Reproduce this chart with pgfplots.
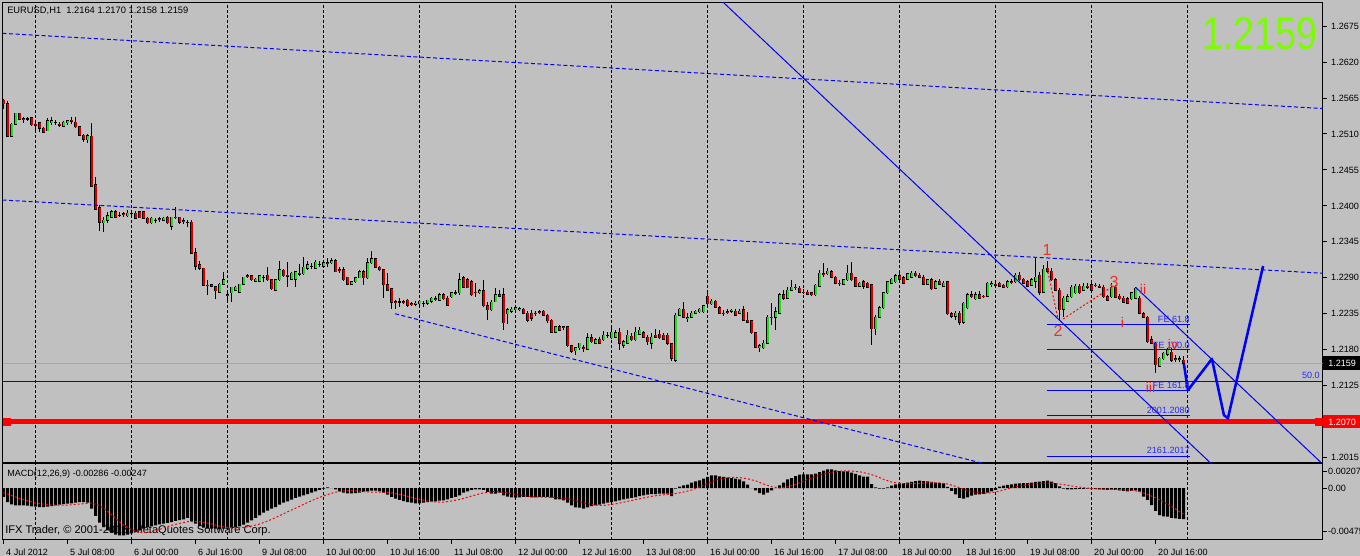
\documentclass[border=0pt]{standalone}
\usepackage{pgfplots}
\usepackage{pgfplotstable}
\pgfplotsset{compat=1.18}
\usepackage{fontspec}
\setmainfont{Liberation Sans}

\definecolor{chartbg}{RGB}{192,192,192}
\definecolor{lineblue}{RGB}{0,0,255}
\definecolor{fibblue}{RGB}{40,40,255}
\definecolor{wave}{RGB}{225,55,35}
\definecolor{roman}{RGB}{255,25,25}
\definecolor{bigprice}{RGB}{124,252,0}
\definecolor{bidgray}{RGB}{168,168,168}

\newcommand{\lbl}{\fontsize{6.8}{8}\selectfont}

% EURUSD H1 bars: index, open, high, low, close
\pgfplotstableread{
i o h l c
0 1.2562 1.2564 1.2548 1.2556
1 1.2556 1.2560 1.2505 1.2507
2 1.2507 1.2527 1.2505 1.2525
3 1.2525 1.2542 1.2525 1.2542
4 1.2542 1.2542 1.2531 1.2533
5 1.2533 1.2536 1.2527 1.2532
6 1.2533 1.2536 1.2530 1.2533
7 1.2535 1.2536 1.2522 1.2524
8 1.2525 1.2528 1.2516 1.2524
9 1.2527 1.2528 1.2513 1.2519
10 1.2519 1.2521 1.2512 1.2513
11 1.2515 1.2535 1.2515 1.2530
12 1.2527 1.2536 1.2524 1.2530
13 1.2528 1.2531 1.2524 1.2528
14 1.2525 1.2528 1.2521 1.2524
15 1.2522 1.2530 1.2522 1.2528
16 1.2527 1.2531 1.2524 1.2530
17 1.2531 1.2536 1.2525 1.2530
18 1.2528 1.2536 1.2519 1.2521
19 1.2521 1.2522 1.2507 1.2508
20 1.2508 1.2510 1.2498 1.2502
21 1.2501 1.2510 1.2496 1.2507
22 1.2507 1.2527 1.2430 1.2430
23 1.2432 1.2444 1.2395 1.2395
24 1.2397 1.2401 1.2362 1.2375
25 1.2374 1.2383 1.2360 1.2378
26 1.2378 1.2391 1.2374 1.2385
27 1.2383 1.2394 1.2381 1.2391
28 1.2391 1.2394 1.2381 1.2383
29 1.2386 1.2391 1.2383 1.2386
30 1.2388 1.2391 1.2383 1.2387
31 1.2385 1.2394 1.2383 1.2389
32 1.2389 1.2394 1.2386 1.2389
33 1.2389 1.2392 1.2381 1.2381
34 1.2391 1.2392 1.2381 1.2382
35 1.2391 1.2392 1.2380 1.2381
36 1.2381 1.2383 1.2372 1.2374
37 1.2374 1.2383 1.2372 1.2381
38 1.2378 1.2381 1.2374 1.2378
39 1.2380 1.2383 1.2375 1.2379
40 1.2378 1.2383 1.2377 1.2381
41 1.2383 1.2385 1.2372 1.2374
42 1.2369 1.2383 1.2363 1.2383
43 1.2383 1.2398 1.2380 1.2382
44 1.2383 1.2383 1.2372 1.2375
45 1.2377 1.2381 1.2372 1.2376
46 1.2375 1.2378 1.2368 1.2375
47 1.2375 1.2378 1.2326 1.2328
48 1.2328 1.2336 1.2302 1.2308
49 1.2310 1.2316 1.2302 1.2305
50 1.2305 1.2305 1.2277 1.2279
51 1.2279 1.2287 1.2264 1.2278
52 1.2279 1.2280 1.2276 1.2277
53 1.2276 1.2277 1.2258 1.2270
54 1.2268 1.2282 1.2268 1.2280
55 1.2280 1.2299 1.2279 1.2287
56 1.2264 1.2268 1.2254 1.2263
57 1.2267 1.2276 1.2253 1.2276
58 1.2271 1.2277 1.2270 1.2276
59 1.2268 1.2280 1.2267 1.2280
60 1.2280 1.2291 1.2280 1.2291
61 1.2293 1.2296 1.2290 1.2292
62 1.2293 1.2293 1.2285 1.2287
63 1.2285 1.2290 1.2284 1.2288
64 1.2285 1.2293 1.2284 1.2293
65 1.2291 1.2294 1.2284 1.2291
66 1.2294 1.2306 1.2285 1.2287
67 1.2287 1.2287 1.2271 1.2273
68 1.2271 1.2288 1.2271 1.2287
69 1.2287 1.2316 1.2285 1.2302
70 1.2302 1.2303 1.2291 1.2293
71 1.2294 1.2314 1.2276 1.2293
72 1.2288 1.2299 1.2287 1.2297
73 1.2288 1.2299 1.2276 1.2299
74 1.2297 1.2311 1.2293 1.2296
75 1.2296 1.2322 1.2294 1.2306
76 1.2305 1.2316 1.2302 1.2310
77 1.2308 1.2313 1.2303 1.2308
78 1.2305 1.2317 1.2305 1.2314
79 1.2311 1.2316 1.2306 1.2311
80 1.2308 1.2317 1.2306 1.2313
81 1.2313 1.2320 1.2306 1.2312
82 1.2313 1.2320 1.2311 1.2316
83 1.2316 1.2319 1.2299 1.2299
84 1.2302 1.2306 1.2297 1.2301
85 1.2302 1.2306 1.2285 1.2287
86 1.2291 1.2291 1.2279 1.2280
87 1.2280 1.2285 1.2279 1.2284
88 1.2284 1.2290 1.2282 1.2290
89 1.2290 1.2302 1.2290 1.2299
90 1.2299 1.2302 1.2279 1.2290
91 1.2290 1.2320 1.2288 1.2313
92 1.2313 1.2331 1.2311 1.2319
93 1.2319 1.2320 1.2305 1.2306
94 1.2306 1.2308 1.2300 1.2302
95 1.2302 1.2303 1.2259 1.2279
96 1.2279 1.2297 1.2270 1.2271
97 1.2273 1.2273 1.2242 1.2253
98 1.2253 1.2256 1.2242 1.2252
99 1.2253 1.2259 1.2245 1.2253
100 1.2253 1.2256 1.2250 1.2252
101 1.2256 1.2258 1.2245 1.2248
102 1.2250 1.2253 1.2247 1.2249
103 1.2250 1.2254 1.2247 1.2251
104 1.2250 1.2256 1.2245 1.2254
105 1.2251 1.2254 1.2245 1.2251
106 1.2251 1.2256 1.2248 1.2256
107 1.2254 1.2261 1.2251 1.2259
108 1.2258 1.2262 1.2254 1.2257
109 1.2256 1.2267 1.2254 1.2264
110 1.2264 1.2267 1.2256 1.2258
111 1.2259 1.2262 1.2248 1.2248
112 1.2261 1.2268 1.2259 1.2267
113 1.2267 1.2271 1.2264 1.2266
114 1.2267 1.2297 1.2264 1.2287
115 1.2290 1.2293 1.2274 1.2276
116 1.2287 1.2290 1.2274 1.2275
117 1.2284 1.2287 1.2262 1.2264
118 1.2268 1.2282 1.2261 1.2267
119 1.2267 1.2273 1.2265 1.2270
120 1.2270 1.2287 1.2245 1.2247
121 1.2247 1.2253 1.2225 1.2241
122 1.2241 1.2256 1.2239 1.2253
123 1.2253 1.2274 1.2253 1.2264
124 1.2264 1.2271 1.2261 1.2262
125 1.2264 1.2274 1.2210 1.2221
126 1.2235 1.2244 1.2219 1.2241
127 1.2239 1.2245 1.2236 1.2242
128 1.2241 1.2247 1.2238 1.2244
129 1.2242 1.2245 1.2239 1.2243
130 1.2242 1.2244 1.2235 1.2236
131 1.2236 1.2239 1.2222 1.2225
132 1.2236 1.2241 1.2224 1.2228
133 1.2236 1.2239 1.2231 1.2235
134 1.2238 1.2241 1.2235 1.2237
135 1.2239 1.2241 1.2233 1.2233
136 1.2233 1.2235 1.2221 1.2224
137 1.2225 1.2227 1.2206 1.2207
138 1.2207 1.2216 1.2206 1.2215
139 1.2215 1.2218 1.2209 1.2210
140 1.2215 1.2216 1.2210 1.2214
141 1.2215 1.2216 1.2184 1.2186
142 1.2186 1.2186 1.2175 1.2178
143 1.2178 1.2183 1.2172 1.2183
144 1.2183 1.2190 1.2180 1.2190
145 1.2183 1.2187 1.2176 1.2182
146 1.2181 1.2205 1.2180 1.2198
147 1.2198 1.2204 1.2190 1.2192
148 1.2190 1.2198 1.2189 1.2195
149 1.2196 1.2199 1.2190 1.2190
150 1.2195 1.2208 1.2193 1.2202
151 1.2202 1.2207 1.2198 1.2202
152 1.2198 1.2215 1.2196 1.2207
153 1.2199 1.2210 1.2198 1.2206
154 1.2207 1.2213 1.2180 1.2190
155 1.2187 1.2195 1.2183 1.2192
156 1.2190 1.2210 1.2189 1.2202
157 1.2201 1.2206 1.2193 1.2195
158 1.2195 1.2215 1.2193 1.2207
159 1.2204 1.2215 1.2202 1.2210
160 1.2206 1.2209 1.2198 1.2199
161 1.2199 1.2202 1.2187 1.2192
162 1.2190 1.2205 1.2181 1.2199
163 1.2202 1.2212 1.2198 1.2199
164 1.2204 1.2210 1.2196 1.2198
165 1.2202 1.2205 1.2195 1.2196
166 1.2202 1.2205 1.2187 1.2190
167 1.2189 1.2190 1.2163 1.2167
168 1.2164 1.2236 1.2161 1.2233
169 1.2233 1.2244 1.2232 1.2242
170 1.2242 1.2253 1.2228 1.2230
171 1.2228 1.2236 1.2222 1.2229
172 1.2230 1.2239 1.2228 1.2236
173 1.2236 1.2241 1.2235 1.2239
174 1.2238 1.2244 1.2236 1.2242
175 1.2238 1.2248 1.2236 1.2247
176 1.2262 1.2271 1.2248 1.2250
177 1.2250 1.2258 1.2248 1.2254
178 1.2254 1.2256 1.2244 1.2245
179 1.2244 1.2247 1.2235 1.2236
180 1.2236 1.2241 1.2231 1.2235
181 1.2238 1.2242 1.2235 1.2237
182 1.2239 1.2242 1.2236 1.2240
183 1.2239 1.2242 1.2231 1.2233
184 1.2236 1.2242 1.2235 1.2239
185 1.2241 1.2247 1.2224 1.2225
186 1.2225 1.2238 1.2221 1.2222
187 1.2224 1.2225 1.2204 1.2206
188 1.2206 1.2207 1.2183 1.2184
189 1.2183 1.2189 1.2176 1.2186
190 1.2183 1.2195 1.2181 1.2190
191 1.2190 1.2233 1.2189 1.2230
192 1.2230 1.2251 1.2218 1.2229
193 1.2230 1.2245 1.2210 1.2238
194 1.2236 1.2267 1.2235 1.2264
195 1.2264 1.2271 1.2256 1.2259
196 1.2259 1.2276 1.2257 1.2271
197 1.2271 1.2287 1.2270 1.2276
198 1.2276 1.2280 1.2271 1.2275
199 1.2274 1.2277 1.2267 1.2268
200 1.2268 1.2273 1.2265 1.2267
201 1.2268 1.2271 1.2264 1.2265
202 1.2267 1.2268 1.2262 1.2264
203 1.2264 1.2280 1.2262 1.2279
204 1.2277 1.2302 1.2276 1.2297
205 1.2296 1.2313 1.2291 1.2295
206 1.2296 1.2305 1.2294 1.2300
207 1.2299 1.2302 1.2290 1.2291
208 1.2291 1.2293 1.2280 1.2282
209 1.2282 1.2287 1.2277 1.2281
210 1.2280 1.2288 1.2279 1.2287
211 1.2287 1.2310 1.2285 1.2297
212 1.2297 1.2314 1.2285 1.2287
213 1.2290 1.2291 1.2276 1.2277
214 1.2277 1.2284 1.2276 1.2282
215 1.2284 1.2287 1.2273 1.2277
216 1.2282 1.2284 1.2274 1.2276
217 1.2279 1.2280 1.2187 1.2212
218 1.2212 1.2233 1.2202 1.2230
219 1.2230 1.2247 1.2228 1.2244
220 1.2244 1.2268 1.2242 1.2267
221 1.2267 1.2285 1.2265 1.2284
222 1.2282 1.2290 1.2280 1.2288
223 1.2284 1.2296 1.2282 1.2293
224 1.2293 1.2297 1.2287 1.2288
225 1.2290 1.2293 1.2280 1.2282
226 1.2288 1.2297 1.2287 1.2296
227 1.2291 1.2300 1.2290 1.2297
228 1.2297 1.2300 1.2291 1.2293
229 1.2294 1.2297 1.2290 1.2291
230 1.2291 1.2294 1.2279 1.2280
231 1.2280 1.2288 1.2279 1.2287
232 1.2287 1.2290 1.2271 1.2273
233 1.2274 1.2287 1.2273 1.2284
234 1.2285 1.2288 1.2279 1.2280
235 1.2277 1.2285 1.2276 1.2282
236 1.2284 1.2285 1.2233 1.2235
237 1.2235 1.2238 1.2228 1.2231
238 1.2231 1.2239 1.2225 1.2236
239 1.2236 1.2239 1.2218 1.2222
240 1.2222 1.2253 1.2219 1.2251
241 1.2244 1.2267 1.2242 1.2264
242 1.2264 1.2270 1.2259 1.2261
243 1.2258 1.2268 1.2256 1.2264
244 1.2264 1.2270 1.2258 1.2259
245 1.2262 1.2264 1.2259 1.2261
246 1.2262 1.2284 1.2261 1.2282
247 1.2280 1.2285 1.2276 1.2281
248 1.2280 1.2284 1.2277 1.2279
249 1.2282 1.2284 1.2276 1.2277
250 1.2279 1.2280 1.2274 1.2276
251 1.2276 1.2287 1.2274 1.2284
252 1.2284 1.2288 1.2280 1.2283
253 1.2284 1.2297 1.2282 1.2294
254 1.2294 1.2299 1.2285 1.2287
255 1.2288 1.2290 1.2280 1.2282
256 1.2284 1.2287 1.2276 1.2277
257 1.2279 1.2290 1.2277 1.2287
258 1.2285 1.2322 1.2274 1.2291
259 1.2294 1.2299 1.2264 1.2268
260 1.2268 1.2310 1.2267 1.2303
261 1.2305 1.2316 1.2297 1.2300
262 1.2300 1.2305 1.2285 1.2287
263 1.2287 1.2290 1.2270 1.2271
264 1.2271 1.2274 1.2225 1.2241
265 1.2242 1.2262 1.2230 1.2259
266 1.2254 1.2265 1.2253 1.2261
267 1.2261 1.2279 1.2259 1.2276
268 1.2267 1.2280 1.2265 1.2277
269 1.2277 1.2280 1.2265 1.2267
270 1.2271 1.2282 1.2270 1.2277
271 1.2277 1.2282 1.2273 1.2276
272 1.2279 1.2282 1.2270 1.2271
273 1.2279 1.2282 1.2276 1.2278
274 1.2277 1.2280 1.2274 1.2276
275 1.2276 1.2279 1.2259 1.2261
276 1.2261 1.2264 1.2254 1.2256
277 1.2261 1.2282 1.2259 1.2276
278 1.2276 1.2279 1.2259 1.2260
279 1.2262 1.2265 1.2256 1.2258
280 1.2259 1.2262 1.2251 1.2253
281 1.2258 1.2261 1.2250 1.2251
282 1.2258 1.2268 1.2256 1.2267
283 1.2259 1.2276 1.2258 1.2274
284 1.2259 1.2262 1.2236 1.2236
285 1.2235 1.2238 1.2228 1.2230
286 1.2230 1.2231 1.2190 1.2192
287 1.2195 1.2201 1.2189 1.2190
288 1.2190 1.2192 1.2144 1.2157
289 1.2155 1.2169 1.2153 1.2167
290 1.2166 1.2176 1.2164 1.2175
291 1.2173 1.2183 1.2170 1.2180
292 1.2176 1.2183 1.2161 1.2164
293 1.2166 1.2172 1.2161 1.2165
294 1.2166 1.2170 1.2161 1.2165
295 1.2164 1.2170 1.2158 1.2159
}\bars

% MACD(12,26,9) main line, drawn as histogram
\pgfplotstableread{
i m
0 -0.00077
1 -0.00121
2 -0.00141
3 -0.00149
4 -0.00149
5 -0.00149
6 -0.00152
7 -0.00158
8 -0.00161
9 -0.00164
10 -0.00164
11 -0.00161
12 -0.00155
13 -0.00149
14 -0.00144
15 -0.00138
16 -0.00135
17 -0.00132
18 -0.00126
19 -0.00121
20 -0.00121
21 -0.00126
22 -0.00178
23 -0.00241
24 -0.00298
25 -0.00336
26 -0.00364
27 -0.00385
28 -0.00402
29 -0.00408
30 -0.00408
31 -0.00402
32 -0.00390
33 -0.00379
34 -0.00364
35 -0.00350
36 -0.00339
37 -0.00330
38 -0.00321
39 -0.00313
40 -0.00307
41 -0.00301
42 -0.00293
43 -0.00284
44 -0.00276
45 -0.00270
46 -0.00258
47 -0.00287
48 -0.00307
49 -0.00327
50 -0.00342
51 -0.00350
52 -0.00350
53 -0.00350
54 -0.00356
55 -0.00350
56 -0.00350
57 -0.00344
58 -0.00339
59 -0.00330
60 -0.00316
61 -0.00298
62 -0.00278
63 -0.00258
64 -0.00235
65 -0.00212
66 -0.00195
67 -0.00178
68 -0.00164
69 -0.00144
70 -0.00126
71 -0.00115
72 -0.00100
73 -0.00086
74 -0.00075
75 -0.00063
76 -0.00052
77 -0.00040
78 -0.00029
79 -0.00017
80 -0.00006
81 0.00006
82 -0.00002
83 -0.00011
84 -0.00029
85 -0.00040
86 -0.00046
87 -0.00046
88 -0.00043
89 -0.00040
90 -0.00034
91 -0.00029
92 -0.00023
93 -0.00023
94 -0.00029
95 -0.00040
96 -0.00057
97 -0.00077
98 -0.00092
99 -0.00103
100 -0.00112
101 -0.00121
102 -0.00126
103 -0.00132
104 -0.00132
105 -0.00126
106 -0.00121
107 -0.00118
108 -0.00115
109 -0.00109
110 -0.00106
111 -0.00098
112 -0.00086
113 -0.00077
114 -0.00063
115 -0.00040
116 -0.00029
117 -0.00017
118 -0.00011
119 -0.00011
120 -0.00017
121 -0.00034
122 -0.00049
123 -0.00049
124 -0.00040
125 -0.00063
126 -0.00075
127 -0.00080
128 -0.00083
129 -0.00080
130 -0.00077
131 -0.00077
132 -0.00080
133 -0.00080
134 -0.00077
135 -0.00077
136 -0.00077
137 -0.00083
138 -0.00098
139 -0.00098
140 -0.00106
141 -0.00126
142 -0.00149
143 -0.00166
144 -0.00169
145 -0.00178
146 -0.00166
147 -0.00155
148 -0.00149
149 -0.00144
150 -0.00135
151 -0.00126
152 -0.00121
153 -0.00115
154 -0.00106
155 -0.00098
156 -0.00092
157 -0.00086
158 -0.00080
159 -0.00069
160 -0.00063
161 -0.00057
162 -0.00052
163 -0.00052
164 -0.00049
165 -0.00049
166 -0.00049
167 -0.00069
168 -0.00006
169 0.00011
170 0.00023
171 0.00029
172 0.00046
173 0.00057
174 0.00066
175 0.00080
176 0.00095
177 0.00109
178 0.00109
179 0.00100
180 0.00095
181 0.00089
182 0.00086
183 0.00080
184 0.00075
185 0.00057
186 0.00029
187 -0.00002
188 -0.00020
189 -0.00043
190 -0.00057
191 -0.00040
192 -0.00020
193 0.00002
194 0.00023
195 0.00046
196 0.00075
197 0.00086
198 0.00103
199 0.00115
200 0.00118
201 0.00118
202 0.00118
203 0.00123
204 0.00138
205 0.00149
206 0.00161
207 0.00161
208 0.00152
209 0.00146
210 0.00144
211 0.00144
212 0.00132
213 0.00121
214 0.00109
215 0.00098
216 0.00098
217 0.00034
218 0.00006
219 -0.00006
220 -0.00006
221 0.00006
222 0.00020
223 0.00032
224 0.00040
225 0.00043
226 0.00046
227 0.00052
228 0.00060
229 0.00063
230 0.00060
231 0.00057
232 0.00052
233 0.00046
234 0.00043
235 0.00040
236 0.00010
237 -0.00025
238 -0.00055
239 -0.00085
240 -0.00092
241 -0.00080
242 -0.00065
243 -0.00058
244 -0.00055
245 -0.00050
246 -0.00040
247 -0.00030
248 -0.00015
249 0.00012
250 0.00020
251 0.00026
252 0.00032
253 0.00037
254 0.00040
255 0.00043
256 0.00043
257 0.00046
258 0.00052
259 0.00055
260 0.00060
261 0.00063
262 0.00055
263 0.00043
264 0.00015
265 -0.00006
266 -0.00012
267 -0.00012
268 -0.00009
269 -0.00008
270 -0.00008
271 -0.00006
272 -0.00006
273 -0.00010
274 -0.00012
275 -0.00014
276 -0.00017
277 -0.00014
278 -0.00017
279 -0.00020
280 -0.00025
281 -0.00030
282 -0.00025
283 -0.00020
284 -0.00032
285 -0.00075
286 -0.00103
287 -0.00147
288 -0.00198
289 -0.00233
290 -0.00244
291 -0.00246
292 -0.00258
293 -0.00262
294 -0.00265
295 -0.00268
}\macd

\tikzset{daygrid/.style={black,line width=0.75pt,dash pattern=on 2.25pt off 1.5pt}}

\pgfplotsset{
  mt4/.style={
    anchor=south west, scale only axis, width=990pt,
    xmin=-0.25, xmax=329.75,
    axis line style={black,line width=0.75pt},
    ytick pos=right, yticklabel pos=right,
    tick align=outside, major tick length=3pt,
    tick style={black,line width=0.75pt},
    tick label style={font=\lbl,black},
    yticklabel style={anchor=west},
    scaled y ticks=false,
  },
  candle/.style={draw=none, mark=none, forget plot,
    error bars/.cd, y dir=both, y explicit, error mark=none},
}

\begin{document}
\begin{tikzpicture}
\useasboundingbox (0,0) rectangle (1020pt,417pt);
\fill[chartbg] (0,0) rectangle (1020pt,417pt);
\begin{scope}[x=0.75pt,y=-0.75pt,yshift=417pt]
  \node[anchor=west,inner sep=0pt,font=\fontsize{8.3}{9}\selectfont] at (5,531)
    {IFX Trader, \textcopyright{} 2001-2012, MetaQuotes Software Corp.};
\end{scope}

% price window
\begin{axis}[mt4,
  at={(1.875pt,69.975pt)}, height=345.15pt,
  ymin=1.20071, ymax=1.27112,
  xtick={8,32,...,296}, xticklabels={}, xtick style={draw=none},
  xmajorgrids, major x grid style={daygrid},
  ytick={1.2015,1.2070,1.2125,1.2180,1.2235,1.2290,1.2345,1.2400,1.2455,1.2510,1.2565,1.2620,1.2675},
  yticklabels={1.2015,,1.2125,1.2180,1.2235,1.2290,1.2345,1.2400,1.2455,1.2510,1.2565,1.2620,1.2675},
  colormap={candles}{rgb255=(215,0,0) rgb255=(40,215,40)},
  point meta min=-0.0001, point meta max=0.0001,
]
% level lines
\addplot[bidgray, line width=0.75pt] coordinates {(-0.25,1.2159) (329.75,1.2159)};
\addplot[lineblue, line width=0.75pt] coordinates {(-0.25,1.2132) (329.75,1.2132)};
\addplot[red, line width=4pt] coordinates {(-0.25,1.2070) (329.75,1.2070)};
\addplot[only marks, mark=square*, mark size=2.6pt, red] coordinates {(0.75,1.2070) (328.75,1.2070)};

% candles: wicks, black bodies, then the body colour from open to close
\addplot[candle, error bar style={draw=black,line width=0.75pt}]
  table[x=i, y expr={(\thisrow{h}+\thisrow{l})/2}, y error expr={(\thisrow{h}-\thisrow{l})/2}] {\bars};
\addplot[candle, error bar style={draw=black,line width=2.8pt}]
  table[x=i, y expr={(\thisrow{o}+\thisrow{c})/2}, y error expr={abs(\thisrow{c}-\thisrow{o})/2+0.0000765}] {\bars};
\addplot[quiver={u=0, v=\thisrow{c}-\thisrow{o}, colored=mapped color},
  point meta={\thisrow{c}-\thisrow{o}}, line width=1.5pt, mark=none, forget plot]
  table[x=i, y=o] {\bars};

% channel lines
\addplot[lineblue, line width=0.75pt, dash pattern=on 3pt off 1.9pt] coordinates {(-0.25,1.2664) (329.75,1.2549)};
\addplot[lineblue, line width=0.75pt, dash pattern=on 3pt off 1.9pt] coordinates {(-0.25,1.2409) (329.75,1.2297)};
\addplot[lineblue, line width=0.75pt, dash pattern=on 3pt off 1.9pt] coordinates {(97.9,1.2235) (250,1.1998)};
\addplot[lineblue, line width=0.75pt] coordinates {(175,1.2740) (310,1.1959)};
\addplot[lineblue, line width=0.75pt] coordinates {(283.1,1.2275) (331,1.1998)};

% expansion levels
\addplot[lineblue, line width=0.75pt] coordinates {(260.9,1.2219) (296.6,1.2219)};
\addplot[lineblue, line width=0.75pt] coordinates {(260.9,1.2180) (296.6,1.2180)};
\addplot[lineblue, line width=0.75pt] coordinates {(260.9,1.2118) (296.6,1.2118)};
\addplot[lineblue, line width=0.75pt] coordinates {(260.9,1.2080) (296.6,1.2080)};
\addplot[lineblue, line width=0.75pt] coordinates {(260.9,1.2017) (296.6,1.2017)};

% wave connectors
\addplot[red, line width=0.75pt, dash pattern=on 1.5pt off 1.5pt] coordinates {(261.1,1.2299) (263.6,1.2228)};
\addplot[red, line width=0.75pt, dash pattern=on 1.5pt off 1.5pt] coordinates {(264.9,1.2227) (277.1,1.2276)};

% projected path
\addplot[lineblue, line width=1.9pt, line join=round] coordinates {
  (295.1,1.2158) (296.1,1.2118) (302.1,1.2166) (305.1,1.2080) (306.1,1.2075) (314.9,1.2308)};
\end{axis}

% MACD window
\begin{axis}[mt4,
  at={(1.875pt,12pt)}, height=57pt,
  ymin=-0.00448, ymax=0.00207,
  xtick={0,16,...,288},
  xticklabels={4 Jul 2012,5 Jul 08:00,6 Jul 00:00,6 Jul 16:00,9 Jul 08:00,10 Jul 00:00,10 Jul 16:00,11 Jul 08:00,12 Jul 00:00,12 Jul 16:00,13 Jul 08:00,16 Jul 00:00,16 Jul 16:00,17 Jul 08:00,18 Jul 00:00,18 Jul 16:00,19 Jul 08:00,20 Jul 00:00,20 Jul 16:00},
  xtick pos=left,
  xticklabel style={anchor=north west, xshift=-1.5pt},
  minor xtick={8,32,...,296}, xminorgrids, minor tick length=0pt,
  minor x grid style={daygrid},
  ytick={-0.00377,0,0.00141},
  yticklabels={-0.00475,0.00,0.00207},
  yticklabel style={xshift=-2.25pt},
]
\addplot[ybar, bar width=2.25pt, bar shift=0pt, fill=black, draw=none] table[x=i,y=m] {\macd};
\addplot[red, line width=0.75pt, dash pattern=on 1.5pt off 1.5pt] coordinates {
(0,-0.00040) (4,-0.00090) (8,-0.00130) (12,-0.00148) (16,-0.00148) (20,-0.00135) (22,-0.00130)
(24,-0.00150) (26,-0.00200) (28,-0.00260) (30,-0.00320) (32,-0.00360) (34,-0.00385) (36,-0.00385)
(38,-0.00368) (40,-0.00345) (42,-0.00322) (44,-0.00305) (46,-0.00290) (48,-0.00288) (50,-0.00295)
(52,-0.00310) (54,-0.00328) (56,-0.00340) (58,-0.00345) (60,-0.00340) (62,-0.00328) (64,-0.00310)
(66,-0.00285) (68,-0.00255) (70,-0.00222) (72,-0.00190) (74,-0.00158) (76,-0.00125) (78,-0.00095)
(80,-0.00068) (82,-0.00045) (84,-0.00028) (86,-0.00022) (88,-0.00025) (90,-0.00030) (92,-0.00036)
(94,-0.00036) (96,-0.00038) (98,-0.00048) (100,-0.00062) (102,-0.00080) (104,-0.00098) (106,-0.00112)
(108,-0.00120) (110,-0.00122) (112,-0.00112) (114,-0.00098) (116,-0.00080) (118,-0.00060) (120,-0.00042)
(122,-0.00032) (124,-0.00032) (126,-0.00042) (128,-0.00055) (130,-0.00066) (132,-0.00074) (134,-0.00078)
(136,-0.00080) (138,-0.00082) (140,-0.00088) (142,-0.00100) (144,-0.00118) (146,-0.00135) (148,-0.00148)
(150,-0.00150) (152,-0.00142) (154,-0.00130) (156,-0.00115) (158,-0.00100) (160,-0.00086) (162,-0.00072)
(164,-0.00062) (166,-0.00055) (168,-0.00048) (170,-0.00035) (172,-0.00018) (174,0.00010) (176,0.00040)
(178,0.00068) (180,0.00085) (182,0.00092) (184,0.00090) (186,0.00080) (188,0.00062) (190,0.00035)
(192,0.00012) (194,0.00000) (196,0.00010) (198,0.00030) (200,0.00060) (202,0.00088) (204,0.00110)
(206,0.00130) (208,0.00142) (210,0.00148) (212,0.00146) (214,0.00140) (216,0.00125) (218,0.00105)
(220,0.00075) (222,0.00052) (224,0.00040) (226,0.00036) (228,0.00038) (230,0.00042) (232,0.00046)
(234,0.00044) (236,0.00035) (238,0.00015) (240,-0.00010) (242,-0.00030) (244,-0.00042) (246,-0.00045)
(248,-0.00035) (250,-0.00018) (252,0.00002) (254,0.00018) (256,0.00028) (258,0.00036) (260,0.00042)
(262,0.00042) (264,0.00035) (266,0.00024) (268,0.00012) (270,0.00003) (272,-0.00004) (274,-0.00008)
(276,-0.00010) (278,-0.00012) (280,-0.00016) (282,-0.00020) (284,-0.00030) (286,-0.00055) (288,-0.00085)
(290,-0.00120) (292,-0.00160) (294,-0.00205) (295,-0.00225)};
\end{axis}

% texts in pixel coordinates (y downwards)
\begin{scope}[x=0.75pt,y=-0.75pt,yshift=417pt]
  \node[anchor=west,inner sep=0pt,font=\fontsize{7}{8}\selectfont] at (7,10.7) {EURUSD,H1\ \ 1.2164 1.2170 1.2158 1.2159};
  \node[anchor=east,inner sep=0pt,text=bigprice,font=\fontsize{34.5}{36}\selectfont,xscale=0.82] at (1318,33.5) {1.2159};
  \node[anchor=west,inner sep=0pt,font=\lbl] at (7,474) {MACD(12,26,9) -0.00286 -0.00247};
  % fibo labels
  \begin{scope}[every node/.style={anchor=south east,inner sep=0pt,font=\lbl,text=fibblue}]
    \node at (1190,322.5) {FE 61.8};
    \node at (1190,348.5) {FE 100.0};
    \node at (1190,388.5) {FE 161.8};
    \node at (1190,414) {2001.2080};
    \node at (1190,454) {2161.2017};
    \node at (1320,379) {50.0};
  \end{scope}
  % wave counts
  \begin{scope}[every node/.style={inner sep=0pt,font=\fontsize{12}{12}\selectfont,text=wave}]
    \node at (1047,250.5) {1};
    \node at (1058,330.5) {2};
    \node at (1114,281.5) {3};
  \end{scope}
  \begin{scope}[every node/.style={inner sep=0pt,font=\fontsize{10.5}{11}\selectfont,text=roman}]
    \node at (1122.5,322) {i};
    \node at (1143,289) {ii};
    \node at (1150.5,387.5) {iii};
    \node at (1173,344) {iv};
  \end{scope}
  % price boxes on the scale
  \fill[black] (1323,356) rectangle (1360,370);
  \node[anchor=west,inner sep=0pt,font=\lbl,text=white] at (1328,363) {1.2159};
  \fill[red] (1323,415.5) rectangle (1360,428.5);
  \node[anchor=west,inner sep=0pt,font=\lbl,text=white] at (1328,422) {1.2070};
\end{scope}
\end{tikzpicture}
\end{document}
